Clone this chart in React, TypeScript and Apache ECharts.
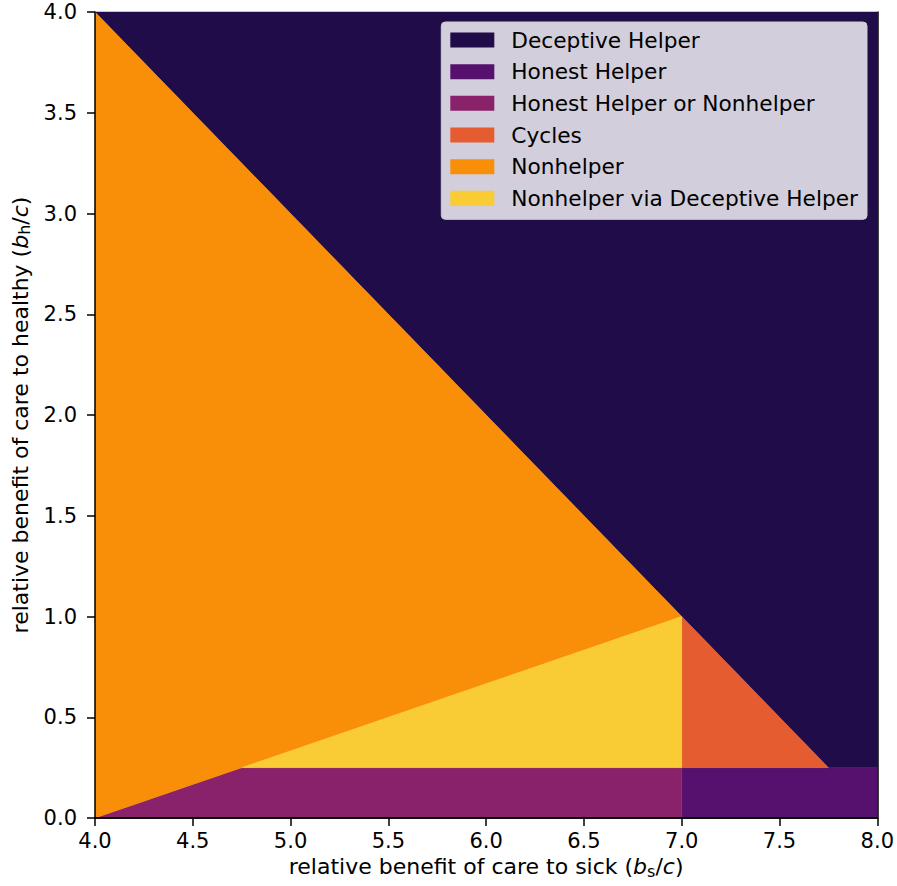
import React, { useEffect, useRef } from 'react';
import * as echarts from 'echarts';

const seriesNames = [
  'Deceptive Helper',
  'Honest Helper',
  'Honest Helper or Nonhelper',
  'Cycles',
  'Nonhelper',
  'Nonhelper via Deceptive Helper',
];
const seriesColors = ['#210c4a', '#56106e', '#89226a', '#e55c30', '#f98e09', '#f9cb35'];

// Region vertices [bs/c, bh/c]
const deceptiveHelper = [[4, 4], [8, 4], [8, 0.25], [7.75, 0.25], [7, 1]];
const honestHelper = [[7, 0], [8, 0], [8, 0.25], [7, 0.25]];
const honestOrNonhelper = [[4, 0], [7, 0], [7, 0.25], [4.75, 0.25]];
const cycles = [[7, 1], [7, 0.25], [7.75, 0.25]];
const nonhelper = [[4, 4], [7, 1], [4, 0]];
const nonhelperViaDeceptive = [[4.75, 0.25], [7, 0.25], [7, 1]];
const polygons = [deceptiveHelper, honestHelper, honestOrNonhelper, cycles, nonhelper, nonhelperViaDeceptive];

const xRange = [4, 8];
const yRange = [0, 4];
const tickStep = 0.5;

const FONT = 'DejaVu Sans';
const FS = 21;
const NAME_FS = 22;

export default function App() {
  const ref = useRef<HTMLDivElement>(null);
  useEffect(() => {
    document.body.style.margin = '0';
    const chart = echarts.init(ref.current!, null, { renderer: 'svg' });
    const rich = {
      i: { fontStyle: 'italic', fontSize: NAME_FS, fontFamily: FONT, color: '#000' },
      sub: { fontSize: 16, fontFamily: FONT, color: '#000', padding: [9, 0, 0, 0] },
    };
    const axisCommon = {
      axisLine: { show: true, lineStyle: { color: '#000', width: 1.5 } },
      splitLine: { show: false },
      z: 10,
    };
    chart.setOption({
      animation: false,
      textStyle: { fontFamily: FONT },
      grid: { left: 95, right: 19, top: 12, bottom: 68 },
      legend: {
        orient: 'vertical',
        top: 22,
        right: 30,
        padding: [7, 9, 10, 9],
        itemWidth: 44,
        itemHeight: 15,
        itemGap: 9.67,
        backgroundColor: 'rgba(255,255,255,0.8)',
        borderColor: '#cccccc',
        borderWidth: 1,
        borderRadius: 4,
        data: seriesNames.map((n) => ({ name: n, icon: 'rect' })),
        textStyle: { fontSize: 21.7, fontFamily: FONT, color: '#000', lineHeight: 22, padding: [0, 0, 0, 12] },
      },
      xAxis: [
        {
          type: 'value',
          min: xRange[0],
          max: xRange[1],
          interval: tickStep,
          name: 'relative benefit of care to sick ({i|b}{sub|s}/{i|c})',
          nameLocation: 'middle',
          nameGap: 35,
          nameTextStyle: { fontSize: NAME_FS, fontFamily: FONT, color: '#000', rich },
          axisTick: { show: true, length: 8, lineStyle: { color: '#000', width: 1.5 } },
          axisLabel: { fontSize: FS, fontFamily: FONT, color: '#000', margin: 12, formatter: (v: number) => v.toFixed(1) },
          ...axisCommon,
        },
        {
          type: 'value',
          position: 'top',
          min: xRange[0],
          max: xRange[1],
          axisTick: { show: false },
          axisLabel: { show: false },
          ...axisCommon,
        },
      ],
      yAxis: [
        {
          type: 'value',
          min: yRange[0],
          max: yRange[1],
          interval: tickStep,
          name: 'relative benefit of care to healthy ({i|b}{sub|h}/{i|c})',
          nameLocation: 'middle',
          nameGap: 60,
          nameTextStyle: { fontSize: NAME_FS, fontFamily: FONT, color: '#000', rich },
          axisTick: { show: true, length: 8, lineStyle: { color: '#000', width: 1.5 } },
          axisLabel: { fontSize: FS, fontFamily: FONT, color: '#000', margin: 18, formatter: (v: number) => v.toFixed(1) },
          ...axisCommon,
        },
        {
          type: 'value',
          position: 'right',
          min: yRange[0],
          max: yRange[1],
          axisTick: { show: false },
          axisLabel: { show: false },
          ...axisCommon,
        },
      ],
      series: polygons.map((poly, k) => ({
        type: 'custom',
        name: seriesNames[k],
        xAxisIndex: 0,
        yAxisIndex: 0,
        itemStyle: { color: seriesColors[k] },
        data: poly,
        encode: { x: 0, y: 1 },
        renderItem: (params: any, api: any) => {
          if (params.dataIndex !== 0) return null;
          const pts = poly.map((p) => api.coord(p));
          return {
            type: 'polygon',
            shape: { points: pts },
            style: { fill: seriesColors[k], stroke: seriesColors[k], lineWidth: 0.5 },
          };
        },
      })),
    });
    return () => chart.dispose();
  }, []);
  return <div ref={ref} style={{ width: 897, height: 886 }} />;
}
